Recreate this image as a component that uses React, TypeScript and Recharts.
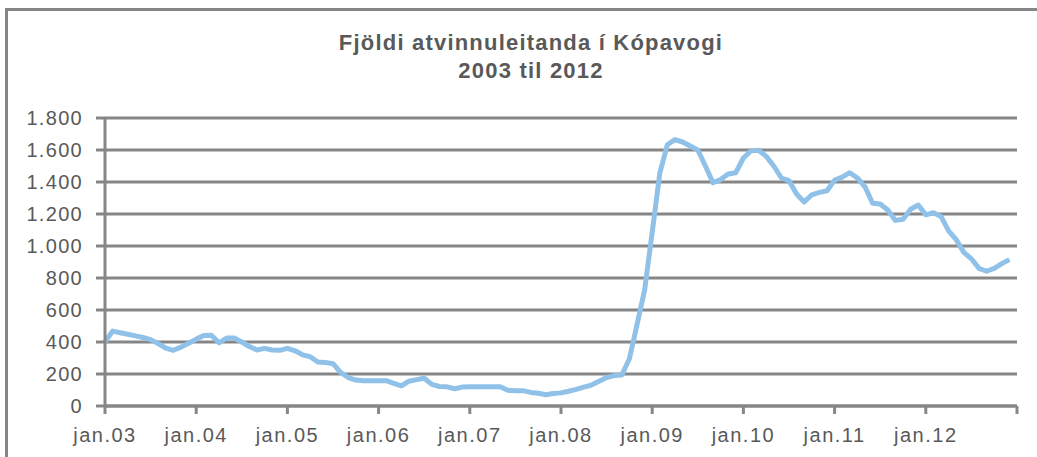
import { CartesianGrid, Line, LineChart, XAxis, YAxis } from "recharts";

// monthly count, jan 2003 .. dec 2012
const unemployed = [
  400, 468, 458, 448, 438, 428, 415, 390, 362, 348, 368, 392,
  418, 440, 442, 395, 425, 425, 400, 372, 350, 360, 350, 348,
  360, 345, 320, 308, 275, 272, 265, 210, 178, 162, 158, 158,
  158, 158, 142, 126, 155, 165, 173, 135, 122, 120, 108, 118,
  121, 121, 121, 121, 121, 98, 96, 96, 85, 80, 70, 78,
  82, 92, 104, 118, 131, 155, 178, 190, 194, 295, 508, 724,
  1085, 1455, 1633, 1665, 1650, 1625, 1600, 1500, 1395, 1415, 1450, 1458,
  1550, 1595, 1598, 1560, 1500, 1425, 1408, 1325, 1275, 1320, 1335, 1345,
  1412, 1430, 1458, 1425, 1370, 1267, 1262, 1225, 1160, 1167, 1230, 1256,
  1195, 1208, 1185, 1095, 1040, 960, 920, 860, 842, 860, 890, 915,
];

const yearLabels = ["jan.03", "jan.04", "jan.05", "jan.06", "jan.07", "jan.08", "jan.09", "jan.10", "jan.11", "jan.12"];
const yTicks = [0, 200, 400, 600, 800, 1000, 1200, 1400, 1600, 1800];

const data = unemployed.map((v, m) => ({ m, value: v }));
const xTicks = [...yearLabels.map((_, k) => k * 12), yearLabels.length * 12];

const GRAY = "#868686";
const TEXT = "#595959";
const FONT = "'Liberation Sans', Arial, sans-serif";

function fmt(n: number) {
  if (n < 1000) return String(n);
  return `${Math.floor(n / 1000)}.${String(n % 1000).padStart(3, "0")}`;
}

function YTick({ x, y, payload }: any) {
  return (
    <text x={x} y={y} dy={7} textAnchor="end" fontFamily={FONT} fontSize={20} fill={TEXT} letterSpacing={1.3}>
      {fmt(payload.value)}
    </text>
  );
}

function XTick({ x, y, payload }: any) {
  const label = yearLabels[payload.value / 12] ?? "";
  return (
    <text x={x} y={y} dy={14} textAnchor="middle" fontFamily={FONT} fontSize={20} fill={TEXT} letterSpacing={1.5}>
      {label}
    </text>
  );
}

export default function App() {
  return (
    <div
      style={{
        position: "fixed",
        left: 0,
        top: 0,
        width: 1037,
        height: 457,
        overflow: "hidden",
        background: "#fff",
      }}
    >
      <div
        style={{
          position: "absolute",
          left: 5,
          top: 8,
          width: 1100,
          height: 500,
          border: `3px solid ${GRAY}`,
        }}
      />
      <div
        style={{
          position: "absolute",
          left: 281,
          top: 29,
          width: 500,
          textAlign: "center",
          fontFamily: FONT,
          fontWeight: "bold",
          fontSize: 22,
          letterSpacing: 1.2,
          lineHeight: "28px",
          color: TEXT,
        }}
      >
        <div>Fjöldi atvinnuleitanda í Kópavogi</div>
        <div>2003 til 2012</div>
      </div>
      <div style={{ position: "absolute", left: 0, top: 0 }}>
        <LineChart width={1037} height={457} data={data} margin={{ top: 118, right: 20, bottom: 0, left: 0 }}>
          <CartesianGrid vertical={false} stroke={GRAY} strokeWidth={3} />
          <XAxis
            type="number"
            dataKey="m"
            domain={[0, 120]}
            ticks={xTicks}
            interval={0}
            height={51}
            tickSize={8}
            tickMargin={14}
            axisLine={{ stroke: GRAY, strokeWidth: 3 }}
            tickLine={{ stroke: GRAY, strokeWidth: 3 }}
            tick={<XTick />}
          />
          <YAxis
            domain={[0, 1800]}
            ticks={yTicks}
            interval={0}
            width={105}
            tickSize={9}
            tickMargin={13}
            axisLine={{ stroke: GRAY, strokeWidth: 3 }}
            tickLine={{ stroke: GRAY, strokeWidth: 3 }}
            tick={<YTick />}
          />
          <Line
            type="linear"
            dataKey="value"
            stroke="#8fc1e9"
            strokeWidth={5}
            strokeLinejoin="round"
            dot={false}
            isAnimationActive={false}
          />
        </LineChart>
      </div>
    </div>
  );
}
